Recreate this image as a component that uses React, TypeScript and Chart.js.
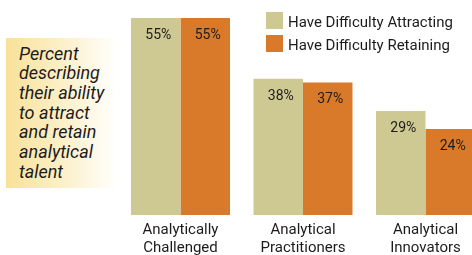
import React, { useEffect, useRef } from "react";
import { Chart, registerables } from "chart.js";

Chart.register(...registerables);

const categories: string[][] = [
  ["Analytically", "Challenged"],
  ["Analytical", "Practitioners"],
  ["Analytical", "Innovators"],
];
const seriesNames = ["Have Difficulty Attracting", "Have Difficulty Retaining"];
const attracting = [55, 38, 29];
const retaining = [55, 37, 24];
const noteLines = [
  "Percent",
  "describing",
  "their ability",
  "to attract",
  "and retain",
  "analytical",
  "talent",
];

const TAN = "#cec893";
const ORANGE = "#d97a2b";
const TEXT = "#1e1b1c";
const FONT = "Roboto, 'Liberation Sans', sans-serif";

const valueLabels = {
  id: "valueLabels",
  afterDatasetsDraw(chart: any) {
    const ctx = chart.ctx;
    ctx.save();
    ctx.fillStyle = TEXT;
    ctx.font = `14px ${FONT}`;
    ctx.textAlign = "center";
    ctx.textBaseline = "alphabetic";
    chart.data.datasets.forEach((ds: any, i: number) => {
      const meta = chart.getDatasetMeta(i);
      meta.data.forEach((bar: any, j: number) => {
        ctx.fillText(`${ds.data[j]}%`, bar.x + 2.5, bar.y + 21);
      });
    });
    ctx.restore();
  },
};

const boxLegend = {
  id: "boxLegend",
  afterDraw(chart: any) {
    const ctx = chart.ctx;
    ctx.save();
    ctx.font = `15px ${FONT}`;
    ctx.textAlign = "left";
    ctx.textBaseline = "alphabetic";
    chart.data.datasets.forEach((ds: any, i: number) => {
      const y = 12 + i * 23;
      ctx.fillStyle = ds.backgroundColor;
      ctx.fillRect(266, y, 17, 17);
      ctx.fillStyle = TEXT;
      ctx.fillText(ds.label, 288, y + 15);
    });
    ctx.restore();
  },
};

export default function App() {
  const ref = useRef<HTMLCanvasElement | null>(null);

  useEffect(() => {
    document.body.style.margin = "0";
    const canvas = ref.current;
    if (!canvas) return;
    const chart = new Chart(canvas, {
      type: "bar",
      data: {
        labels: categories,
        datasets: [
          { label: seriesNames[0], data: attracting, backgroundColor: TAN },
          { label: seriesNames[1], data: retaining, backgroundColor: ORANGE },
        ],
      },
      options: {
        responsive: false,
        animation: false,
        devicePixelRatio: 1,
        layout: { padding: { left: 119.25, right: 3.25, top: 0, bottom: 12 } },
        datasets: {
          bar: { barPercentage: 1, categoryPercentage: 0.808, borderWidth: 0 },
        },
        plugins: {
          legend: { display: false },
          tooltip: { enabled: false },
        },
        scales: {
          y: { display: false, min: 0, max: 60 },
          x: {
            grid: { display: false, drawTicks: false },
            border: { display: false },
            ticks: {
              color: TEXT,
              font: { family: FONT, size: 15, lineHeight: 1.2 },
              padding: 6,
              maxRotation: 0,
              autoSkip: false,
            },
          },
        },
      },
      plugins: [valueLabels, boxLegend],
    });
    return () => chart.destroy();
  }, []);

  return (
    <div style={{ position: "relative", width: 472, height: 255, overflow: "hidden", background: "#fff" }}>
      <canvas ref={ref} width={490} height={275} style={{ display: "block", width: 490, height: 275 }} />
      <div
        style={{
          position: "absolute",
          left: 6,
          top: 38,
          width: 112,
          height: 150,
          boxSizing: "border-box",
          paddingLeft: 13,
          paddingTop: 5.5,
          background: "linear-gradient(to right, #f8e199 0%, #fcf0c8 50%, #ffffff 100%)",
          color: TEXT,
          fontFamily: FONT,
          fontStyle: "italic",
          fontSize: 18,
          lineHeight: "19.7px",
        }}
      >
        {noteLines.map((l) => (
          <div key={l} style={{ whiteSpace: "nowrap" }}>{l}</div>
        ))}
      </div>
    </div>
  );
}
